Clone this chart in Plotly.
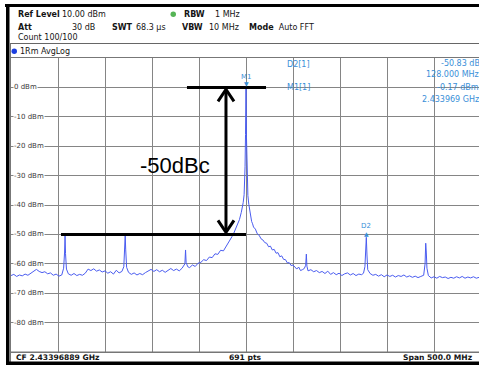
import plotly.graph_objects as go

# ---- analyzer settings / marker readouts ----
cf_ghz = 2.43396889
span_mhz = 500.0
n_points = 691
ref_level_dbm = 10.0
m1_level_dbm = -0.17
m1_freq_ghz = 2.433969
d2_delta_db = -50.83
d2_delta_mhz = 128.000
dbc_label = "-50dBc"

y_ticks = [0, -10, -20, -30, -40, -50, -60, -70, -80]
y_tick_text = ["0 dBm", "-10 dBm", "-20 dBm", "-30 dBm", "-40 dBm",
               "-50 dBm", "-60 dBm", "-70 dBm", "-80 dBm"]

# ---- trace 1 (AvgLog), offset from CF in MHz ----
freq_offset_mhz = [
    -250, -247, -244, -241, -238, -235, -232, -229, -226, -223, -220, -217,
    -214, -211, -208, -205, -202, -199, -196, -194, -193, -192.5, -192, -191,
    -189, -186, -183, -180, -177, -174, -171, -168, -165, -162, -159, -156,
    -153, -150, -147, -144, -141, -138, -135, -132, -130, -129, -128.5, -128,
    -127, -125, -122, -119, -116, -113, -110, -107, -104, -101, -98, -95,
    -92, -89, -86, -83, -80, -77, -74, -71, -68, -65, -64.3, -63.7,
    -62, -60, -57, -54, -51, -48, -45, -42, -39, -36, -33, -30,
    -27, -24, -21, -19, -17, -15, -13, -11, -9, -7, -5, -4,
    -3, -2, -1.5, -1.0, -0.5, 0, 0.5, 1.0, 1.5, 2, 3, 4,
    5, 6, 7, 8, 10, 12, 14, 16, 18, 20, 22, 24,
    26, 28, 30, 32, 34, 36, 38, 40, 42, 44, 46, 48,
    50, 52, 54, 56, 58, 60, 62, 63.5, 64.2, 64.8, 66, 69,
    72, 75, 78, 81, 84, 87, 90, 93, 96, 99, 102, 105,
    108, 111, 114, 117, 120, 123, 125, 126.5, 127.3, 128, 128.7, 129.5,
    132, 135, 138, 141, 144, 147, 150, 153, 156, 159, 162, 165,
    168, 171, 174, 177, 180, 183, 186, 189, 190.5, 191.2, 191.8, 192.5,
    194, 197, 200, 203, 206, 209, 212, 215, 218, 221, 224, 227,
    230, 233, 236, 239, 242, 245, 248,
]
level_dbm = [
    -64.0, -63.6, -64.3, -63.8, -64.1, -63.5, -63.9, -63.2, -62.4, -61.9, -62.6, -63.0,
    -62.7, -63.4, -63.1, -63.9, -63.5, -64.2, -63.8, -61.5, -56.0, -50.5, -56.5, -61.8,
    -63.4, -63.9, -63.3, -64.0, -63.6, -63.9, -63.2, -61.8, -62.3, -61.7, -62.5, -62.1,
    -62.8, -62.4, -63.2, -62.7, -63.5, -62.2, -63.1, -62.6, -61.0, -55.5, -50.2, -55.0,
    -61.2, -62.9, -63.6, -63.1, -63.8, -63.3, -63.7, -63.0, -62.4, -61.9, -62.6, -62.0,
    -62.7, -62.2, -62.9, -62.1, -61.6, -62.3, -61.8, -62.4, -61.5, -60.0, -55.3, -59.5,
    -61.0, -61.3, -60.4, -60.9, -59.8, -59.5, -58.6, -58.9, -57.7, -57.9, -56.6, -56.8,
    -55.4, -55.6, -54.0, -53.4, -52.0, -50.8, -49.6, -48.0, -46.5, -45.0, -42.5, -41.0,
    -39.2, -36.5, -33.0, -27.0, -16.0, -0.17, -17.0, -28.0, -34.0, -36.8, -39.8, -42.0,
    -43.8, -45.6, -46.4, -47.5, -48.2, -49.8, -50.3, -51.5, -51.9, -52.8, -53.0, -54.2,
    -54.0, -55.3, -55.1, -56.4, -56.2, -57.6, -57.3, -58.5, -58.6, -59.7, -59.6, -60.6,
    -60.4, -61.3, -61.8, -61.1, -62.3, -62.0, -61.6, -60.5, -56.7, -60.8, -62.4, -62.0,
    -62.7, -62.3, -63.0, -62.6, -63.3, -62.5, -63.6, -63.0, -63.7, -63.2, -64.0, -63.4,
    -63.1, -63.8, -63.3, -64.0, -63.5, -63.7, -63.2, -61.0, -56.0, -51.0, -57.0, -62.0,
    -63.3, -63.9, -63.6, -64.2, -63.7, -64.4, -63.8, -64.3, -63.9, -64.5, -64.0, -64.3,
    -63.8, -64.5, -64.1, -64.6, -64.2, -64.7, -64.3, -63.9, -60.0, -53.0, -56.0, -61.5,
    -64.0, -64.8, -64.4, -64.9, -64.3, -64.7, -64.5, -65.0, -64.6, -64.9, -64.4, -64.8,
    -64.3, -64.9, -64.5, -64.8, -64.4, -64.9, -64.6,
]

# ---- page geometry (pixels) ----
W, H = 479, 367
ML, MT, MB = 11, 58, 15
PW, PH = W - ML, H - MT - MB
GRID_PX = 470.0                       # width of the 10 screen divisions
x_min = -span_mhz / 2
x_max = x_min + PW * span_mhz / GRID_PX
y_min, y_max = ref_level_dbm - 100, ref_level_dbm


def px(x):
    return (x - ML) / PW


def py(y):
    return (H - MB - y) / PH


FONT = "DejaVu Sans"
TXT = "#151515"
MK = "#3a8fd8"
GRID = "#858585"

fig = go.Figure()
fig.add_trace(go.Scatter(
    x=freq_offset_mhz, y=level_dbm, mode="lines",
    line=dict(color="#4a5cf0", width=1), hoverinfo="skip",
))

shapes = []


def prect(x0, y0, x1, y1, color, layer="above"):
    shapes.append(dict(type="rect", xref="paper", yref="paper",
                       x0=px(x0), x1=px(x1), y0=py(y0), y1=py(y1),
                       fillcolor=color, layer=layer,
                       line=dict(width=0, color=color)))


def pline(x0, y0, x1, y1, color, width, layer="above"):
    shapes.append(dict(type="line", xref="paper", yref="paper",
                       x0=px(x0), x1=px(x1), y0=py(y0), y1=py(y1),
                       layer=layer, line=dict(color=color, width=width)))


# masks that interrupt the graticule
prect(283, 58.5, 479, 104, "white", layer="between")
prect(125, 143, 225, 183, "white", layer="between")

# header / footer rules and the black frame
pline(10, 43.5, 479, 43.5, "#666666", 1)
pline(10.5, 43.5, 10.5, 362, "#777777", 1)
pline(10, 352, 479, 352, "#777777", 1)
prect(5, 4, 479, 7, "black")
prect(6, 4, 9.5, 365, "black")
prect(6, 361.5, 479, 365, "black")

# -50 dBc call-out: reference bars and double arrow
arrow_x = -21.3
shapes.append(dict(type="line", xref="x", yref="y", x0=-62.8, x1=21.3,
                   y0=0, y1=0, layer="above",
                   line=dict(color="black", width=3)))
shapes.append(dict(type="line", xref="x", yref="y", x0=-196.8, x1=0,
                   y0=-50, y1=-50, layer="above",
                   line=dict(color="black", width=3)))
shapes.append(dict(type="line", xref="x", yref="y", x0=arrow_x, x1=arrow_x,
                   y0=-0.8, y1=-49.2, layer="above",
                   line=dict(color="black", width=3)))
for anchor, sign in ((0, -1), (-50, 1)):
    shapes.append(dict(type="path", xref="x", yref="y",
                       xsizemode="pixel", ysizemode="pixel",
                       xanchor=arrow_x, yanchor=anchor,
                       path=f"M -8 {sign * 14} L 0 {sign * 2} L 8 {sign * 14}",
                       layer="above", line=dict(color="black", width=3)))

# status dots
shapes.append(dict(type="circle", xref="paper", yref="paper",
                   x0=px(170.5), x1=px(176), y0=py(11.5), y1=py(17),
                   fillcolor="#55b455", line=dict(width=0)))
shapes.append(dict(type="circle", xref="paper", yref="paper",
                   x0=px(11.5), x1=px(17), y0=py(48.5), y1=py(54),
                   fillcolor="#1b3ee0", line=dict(width=0)))

ann = []


def text(x, y, s, size=8, anchor="left", color=TXT, family=FONT):
    ann.append(dict(xref="paper", yref="paper", x=px(x), y=py(y),
                    text=s, showarrow=False,
                    xanchor=anchor, yanchor="middle",
                    font=dict(family=family, size=size, color=color)))


# header
text(16, 14, "<b>Ref Level</b>")
text(60, 14, f"{ref_level_dbm:.2f} dBm")
text(182, 14, "<b>RBW</b>")
text(213, 14, "1 MHz")
text(16, 27, "<b>Att</b>")
text(97, 27, "30 dB", anchor="right")
text(110, 27, "<b>SWT</b>")
text(134, 27, "68.3 µs")
text(180, 27, "<b>VBW</b>")
text(207, 27, "10 MHz")
text(247, 27, "<b>Mode</b>  Auto FFT")
text(16, 38, "Count 100/100")
text(18, 51, "1Rm AvgLog")

# footer
text(14, 357, f"<b>CF {cf_ghz:.8f} GHz</b>", size=7.6)
text(245, 357, f"<b>{n_points} pts</b>", size=7.6, anchor="center")
text(475, 357, f"<b>Span {span_mhz:.1f} MHz</b>", size=7.6, anchor="right")

# marker readouts
text(285, 64, "D2[1]", color=MK)
text(285, 87.5, "M1[1]", color=MK)
text(482, 63, f"{d2_delta_db:.2f} dB", anchor="right", color=MK)
text(481, 75, f"{d2_delta_mhz:.3f} MHz", anchor="right", color=MK)
text(481, 87, f"{m1_level_dbm:.2f} dBm", anchor="right", color=MK)
text(481, 99, f"{m1_freq_ghz:.6f} GHz", anchor="right", color=MK)

# call-out text
text(175, 165, dbc_label, size=22, anchor="center", color="black",
     family="Liberation Sans")

# level labels on the graticule
for v, s in zip(y_ticks, y_tick_text):
    ann.append(dict(xref="paper", yref="y", x=px(13), y=v, text=s,
                    showarrow=False, xanchor="left", yanchor="middle",
                    bgcolor="white", borderpad=0,
                    font=dict(family=FONT, size=7, color="#3a3a3a")))

# marker symbols on the trace
d2_level = m1_level_dbm + d2_delta_db
for x, y, sym, lab in ((0, m1_level_dbm, "▼", "M1"),
                       (d2_delta_mhz, d2_level, "▲", "D2")):
    ann.append(dict(xref="x", yref="y", x=x, y=y, text=sym, showarrow=False,
                    yshift=4, font=dict(family=FONT, size=6, color=MK)))
    ann.append(dict(xref="x", yref="y", x=x, y=y, text=lab, showarrow=False,
                    yshift=11, font=dict(family=FONT, size=7, color=MK)))

fig.update_layout(
    width=W, height=H, margin=dict(l=ML, r=0, t=MT, b=MB, pad=0),
    paper_bgcolor="white", plot_bgcolor="white", showlegend=False,
    xaxis=dict(range=[x_min, x_max], dtick=50, tick0=0, showgrid=True,
               gridcolor=GRID, gridwidth=1, zeroline=False,
               showticklabels=False, ticks="", showline=True, mirror=True,
               linecolor="#777777", linewidth=1, fixedrange=True),
    yaxis=dict(range=[y_min, y_max], dtick=10, tick0=0, showgrid=True,
               gridcolor=GRID, gridwidth=1, zeroline=False,
               showticklabels=False, ticks="", showline=True, mirror=False,
               linecolor="#777777", linewidth=1, fixedrange=True),
    shapes=shapes, annotations=ann,
)

fig.write_html("out.html", config=dict(displayModeBar=False))
